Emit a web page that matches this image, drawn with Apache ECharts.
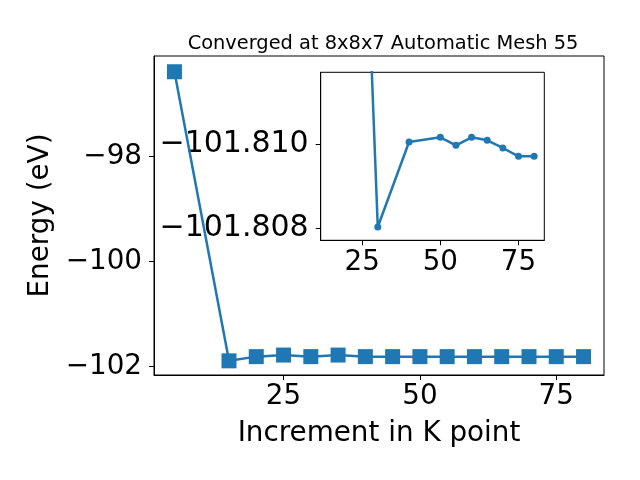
<!DOCTYPE html>
<html>
<head>
<meta charset="utf-8">
<script src="https://cdn.jsdelivr.net/npm/echarts@6/dist/echarts.min.js"></script>
<style>html,body{margin:0;padding:0;background:#fff}#c{width:640px;height:480px}</style>
</head>
<body>
<div id="c"></div>
<script>
// Main plot data
const kPoints = [5, 15, 20, 25, 30, 35, 40, 45, 50, 55, 60, 65, 70, 75, 80];
const energy = [-96.38, -101.89, -101.81, -101.78, -101.81, -101.78, -101.81, -101.81, -101.81, -101.81, -101.81, -101.81, -101.81, -101.81, -101.81];
// Inset data (zoomed)
const insetK = [25, 30, 40, 50, 55, 60, 65, 70, 75, 80];
const insetEnergy = [-101.8177, -101.80803, -101.810055, -101.810167, -101.809976, -101.810167, -101.810095, -101.809912, -101.809714, -101.809714];
// Tick labels
const mainXTicks = [25, 50, 75];
const mainYTicks = [-102, -100, -98];
const insetXTicks = [25, 50, 75];
const insetYTicks = [-101.810, -101.808];

const FONT = 'DejaVu Sans';
const BLUE = '#1f77b4';
const minus = s => s.replace('-', '\u2212');

const chart = echarts.init(document.getElementById('c'), null, {renderer: 'canvas'});

function axisCommon(ticks, fmt, margin, fs) {
  return {
    axisLine: {show: true, onZero: false, lineStyle: {color: '#000', width: 1}},
    axisTick: {show: true, inside: false, length: 5, customValues: ticks, lineStyle: {color: '#000', width: 1}},
    axisLabel: {show: true, customValues: ticks, formatter: fmt, margin: margin, color: '#000', fontFamily: FONT, fontSize: fs || 27.8},
    splitLine: {show: false}
  };
}

const option = {
  backgroundColor: '#fff',
  animation: false,
  title: {
    text: 'Converged at 8x8x7 Automatic Mesh 55',
    left: 378, top: 29, textAlign: 'center',
    textStyle: {fontFamily: FONT, fontSize: 19.4, fontWeight: 'normal', color: '#000'}
  },
  grid: [
    {left: 154, right: 36, top: 56, bottom: 105, show: true, borderColor: '#000', borderWidth: 1, backgroundColor: 'transparent'},
    {left: 320.7, top: 72.3, width: 223.6, height: 168, show: true, borderColor: '#000', borderWidth: 1, backgroundColor: '#fff'}
  ],
  xAxis: [
    Object.assign({type: 'value', gridIndex: 0, min: 1.25, max: 83.75,
      name: 'Increment in K point', nameLocation: 'middle', nameGap: 45,
      nameTextStyle: {fontFamily: FONT, fontSize: 27.8, color: '#000'}},
      axisCommon(mainXTicks, v => String(v), 8)),
    Object.assign({type: 'value', gridIndex: 1, min: 11.75, max: 83.25},
      axisCommon(insetXTicks, v => String(v), 8))
  ],
  yAxis: [
    Object.assign({type: 'value', gridIndex: 0, min: -102.16, max: -96.08,
      name: 'Energy (eV)', nameLocation: 'middle', nameGap: 93,
      nameTextStyle: {fontFamily: FONT, fontSize: 27.8, color: '#000'}},
      axisCommon(mainYTicks, v => minus(String(v)), 12)),
    Object.assign({type: 'value', gridIndex: 1, inverse: true, min: -101.811714, max: -101.807714},
      axisCommon(insetYTicks, v => minus(v.toFixed(3)), 12, 30))
  ],
  series: [
    {
      type: 'line', xAxisIndex: 0, yAxisIndex: 0, z: 2,
      data: kPoints.map((k, i) => [k, energy[i]]),
      symbol: 'rect', symbolSize: 15,
      lineStyle: {color: BLUE, width: 2.5},
      itemStyle: {color: BLUE},
      clip: true
    },
    {
      type: 'line', xAxisIndex: 1, yAxisIndex: 1, z: 5,
      data: insetK.map((k, i) => [k, insetEnergy[i]]),
      symbol: 'circle', symbolSize: 7,
      lineStyle: {color: BLUE, width: 2.5},
      itemStyle: {color: BLUE},
      clip: true
    }
  ]
};
chart.setOption(option);
</script>
</body>
</html>
